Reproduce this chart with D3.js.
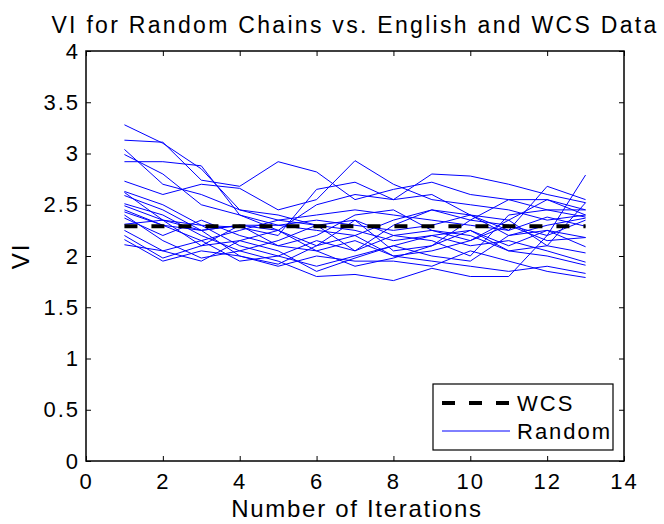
<!DOCTYPE html>
<html>
  <head>
    <title>VI for Random Chains</title>
    <script src="https://d3js.org/d3.v7.min.js"></script>
    <style>
      body { margin: 0; background: #fff; }
      text { font-family: Arial, "Liberation Sans", Helvetica, sans-serif; fill: #000; }
    </style>
  </head>
  <body>
    <div id="chart"></div>
    <script>
      // iterations on the x axis
      var iterations = [1, 2, 3, 4, 5, 6, 7, 8, 9, 10, 11, 12, 13];

      // WCS reference value (flat)
      var wcs = [2.29, 2.29, 2.29, 2.29, 2.29, 2.29, 2.29, 2.29, 2.29, 2.29, 2.29, 2.29, 2.29];

      // random chains, one row per chain
      var chain1  = [3.28, 3.10, 2.85, 2.45, 2.40, 2.30, 2.35, 2.20, 2.25, 2.15, 2.30, 2.20, 2.35];
      var chain2  = [3.13, 3.11, 2.74, 2.68, 2.92, 2.82, 2.55, 2.65, 2.72, 2.60, 2.55, 2.45, 2.38];
      var chain3  = [3.04, 2.70, 2.60, 2.45, 2.35, 2.40, 2.45, 2.40, 2.35, 2.30, 2.25, 2.68, 2.55];
      var chain4  = [2.99, 2.80, 2.50, 2.40, 2.30, 2.25, 2.20, 2.35, 2.45, 2.40, 2.20, 2.25, 2.18];
      var chain5  = [2.92, 2.92, 2.88, 2.40, 2.25, 2.50, 2.60, 2.55, 2.80, 2.78, 2.70, 2.60, 2.52];
      var chain6  = [2.73, 2.60, 2.70, 2.66, 2.45, 2.55, 2.93, 2.70, 2.55, 2.50, 2.45, 2.35, 2.40];
      var chain7  = [2.63, 2.50, 2.30, 2.28, 2.20, 2.65, 2.72, 2.55, 2.60, 2.40, 2.35, 2.55, 2.45];
      var chain8  = [2.59, 2.45, 2.25, 2.30, 2.10, 2.05, 2.15, 2.00, 2.05, 2.15, 2.35, 2.10, 2.03];
      var chain9  = [2.51, 2.40, 2.20, 2.05, 1.95, 1.80, 1.82, 1.76, 1.88, 1.80, 1.80, 2.20, 2.79];
      var chain10 = [2.49, 2.35, 2.30, 2.10, 2.00, 2.15, 2.05, 2.30, 2.45, 2.35, 2.55, 2.55, 2.40];
      var chain11 = [2.43, 2.30, 2.15, 2.25, 2.35, 2.30, 2.25, 2.15, 2.20, 2.10, 2.15, 2.05, 1.94];
      var chain12 = [2.37, 2.20, 2.35, 2.20, 2.10, 2.20, 2.40, 2.45, 2.25, 2.20, 2.05, 2.00, 1.91];
      var chain13 = [2.31, 2.35, 2.25, 2.30, 2.30, 2.35, 2.30, 2.25, 2.30, 2.40, 2.25, 2.38, 2.29];
      var chain14 = [2.25, 2.05, 2.15, 1.95, 2.00, 1.90, 2.00, 2.10, 2.00, 1.95, 2.20, 2.30, 2.37];
      var chain15 = [2.16, 1.95, 2.05, 2.00, 1.90, 2.00, 1.95, 1.95, 1.90, 2.05, 1.95, 1.85, 1.79];
      var chain16 = [2.11, 2.05, 1.95, 2.15, 2.05, 1.85, 1.98, 2.10, 2.20, 2.25, 2.10, 2.25, 2.09];
      var chain17 = [2.45, 2.30, 2.25, 2.00, 1.92, 2.10, 2.20, 2.00, 1.95, 1.90, 1.85, 1.90, 1.83];
      var chain18 = [2.62, 2.35, 2.10, 2.15, 2.25, 2.05, 1.90, 1.98, 2.10, 2.35, 2.30, 2.15, 2.18];
      var chain19 = [2.40, 2.15, 1.98, 2.05, 2.15, 2.30, 2.05, 2.20, 2.15, 2.00, 2.40, 2.45, 2.45];
      var chain20 = [2.20, 1.98, 2.10, 2.30, 2.25, 2.10, 2.35, 2.05, 2.10, 2.25, 2.05, 2.10, 2.52];

      var chains = [chain1, chain2, chain3, chain4, chain5, chain6, chain7, chain8, chain9, chain10,
                    chain11, chain12, chain13, chain14, chain15, chain16, chain17, chain18, chain19, chain20];

      var xTicks = [0, 2, 4, 6, 8, 10, 12, 14];
      var yTicks = [0, 0.5, 1, 1.5, 2, 2.5, 3, 3.5, 4];

      var width = 664, height = 524;
      var margin = { left: 86, right: 40, top: 51, bottom: 63 };
      var x0 = margin.left, x1 = width - margin.right;
      var y0 = height - margin.bottom, y1 = margin.top;

      var svg = d3.select("#chart")
        .append("svg")
        .attr("width", width)
        .attr("height", height);

      var xScale = d3.scaleLinear().domain([0, 14]).range([x0, x1]);
      var yScale = d3.scaleLinear().domain([0, 4]).range([y0, y1]);

      var line = d3.line()
        .x(function(d, i) { return xScale(iterations[i]); })
        .y(function(d) { return yScale(d); });

      // random chains
      svg.append("g").selectAll("path")
        .data(chains)
        .enter()
        .append("path")
        .attr("d", line)
        .attr("fill", "none")
        .attr("stroke", "#0000ff")
        .attr("stroke-width", 1);

      // WCS dashed line
      svg.append("path")
        .attr("d", line(wcs))
        .attr("fill", "none")
        .attr("stroke", "#000")
        .attr("stroke-width", 4)
        .attr("stroke-dasharray", "13,14");

      // axes, MATLAB style box with inward ticks
      var tickLen = 5;
      svg.append("g")
        .attr("transform", "translate(0," + y0 + ")")
        .call(d3.axisBottom(xScale).tickValues(xTicks).tickSizeInner(-tickLen).tickSizeOuter(0).tickPadding(12))
        .call(function(g) { g.select(".domain").remove(); })
        .selectAll("text")
        .attr("font-size", 22)
        .attr("letter-spacing", 2)
        .attr("font-family", "Arial, 'Liberation Sans', sans-serif");

      svg.append("g")
        .attr("transform", "translate(0," + y1 + ")")
        .call(d3.axisTop(xScale).tickValues(xTicks).tickSizeInner(-tickLen).tickSizeOuter(0).tickFormat(""))
        .call(function(g) { g.select(".domain").remove(); });

      svg.append("g")
        .attr("transform", "translate(" + x0 + ",0)")
        .call(d3.axisLeft(yScale).tickValues(yTicks).tickSizeInner(-tickLen).tickSizeOuter(0).tickPadding(6).tickFormat(d3.format("~g")))
        .call(function(g) { g.select(".domain").remove(); })
        .selectAll("text")
        .attr("font-size", 22)
        .attr("letter-spacing", 2)
        .attr("font-family", "Arial, 'Liberation Sans', sans-serif");

      svg.append("g")
        .attr("transform", "translate(" + x1 + ",0)")
        .call(d3.axisRight(yScale).tickValues(yTicks).tickSizeInner(-tickLen).tickSizeOuter(0).tickFormat(""))
        .call(function(g) { g.select(".domain").remove(); });

      svg.selectAll(".tick line").attr("stroke", "#000");

      svg.append("rect")
        .attr("x", x0).attr("y", y1)
        .attr("width", x1 - x0).attr("height", y0 - y1)
        .attr("fill", "none")
        .attr("stroke", "#000")
        .attr("stroke-width", 1.5);

      // title and axis labels
      svg.append("text")
        .attr("x", 355).attr("y", 33)
        .attr("text-anchor", "middle")
        .attr("font-size", 23)
        .attr("letter-spacing", 2.3)
        .text("VI for Random Chains vs. English and WCS Data");

      svg.append("text")
        .attr("x", 357).attr("y", 517)
        .attr("text-anchor", "middle")
        .attr("font-size", 24)
        .attr("letter-spacing", 1.7)
        .text("Number of Iterations");

      svg.append("text")
        .attr("transform", "translate(29," + (y0 + y1) / 2 + ") rotate(-90)")
        .attr("text-anchor", "middle")
        .attr("font-size", 24)
        .attr("letter-spacing", 2)
        .text("VI");

      // legend
      var legend = svg.append("g");
      legend.append("rect")
        .attr("x", 433).attr("y", 384)
        .attr("width", 180).attr("height", 66)
        .attr("fill", "#fff")
        .attr("stroke", "#000")
        .attr("stroke-width", 1.2);
      legend.append("line")
        .attr("x1", 442).attr("x2", 510).attr("y1", 403).attr("y2", 403)
        .attr("stroke", "#000").attr("stroke-width", 4).attr("stroke-dasharray", "13,14");
      legend.append("text")
        .attr("x", 517).attr("y", 411).attr("font-size", 22).attr("letter-spacing", 2).text("WCS");
      legend.append("line")
        .attr("x1", 442).attr("x2", 510).attr("y1", 431).attr("y2", 431)
        .attr("stroke", "#0000ff").attr("stroke-width", 1);
      legend.append("text")
        .attr("x", 517).attr("y", 439).attr("font-size", 22).attr("letter-spacing", 2).text("Random");
    </script>
  </body>
</html>
